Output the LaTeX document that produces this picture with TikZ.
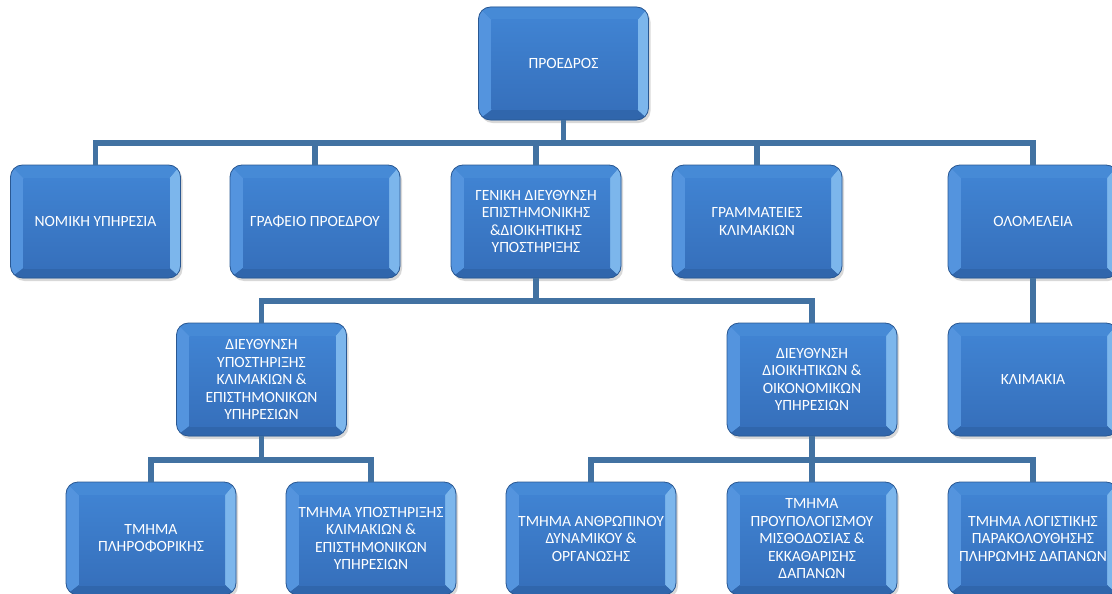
\documentclass[tikz,border=0pt]{standalone}
\usepackage{fontspec}
\newfontfamily\boxfont{Carlito}
\usetikzlibrary{shadows}
\definecolor{linkblue}{RGB}{66,114,162}
\definecolor{facetop}{RGB}{64,131,210}
\definecolor{facebot}{RGB}{54,112,188}
\definecolor{edgeblue}{RGB}{42,88,146}
\definecolor{bevleft}{RGB}{84,148,222}
\definecolor{bevright}{RGB}{124,182,236}
\definecolor{bevtop}{RGB}{70,138,214}
\definecolor{bevbot}{RGB}{48,102,172}

\begin{document}
\begin{tikzpicture}[x=1pt,y=-1pt,
  unit/.style={rounded corners=12pt,draw=edgeblue,line width=.8pt,
    top color=facetop,bottom color=facebot,
    minimum width=170pt,minimum height=113pt,inner sep=0pt,
    align=center,text=white,font=\boxfont\fontsize{15.6}{17.5}\selectfont,
    drop shadow={opacity=.3,shadow xshift=2pt,shadow yshift=-3pt},
    path picture={
      \fill[sharp corners,bevleft](path picture bounding box.north west)--([shift={(13pt,-13pt)}]path picture bounding box.north west)--([shift={(13pt,10pt)}]path picture bounding box.south west)--(path picture bounding box.south west)--cycle;
      \fill[sharp corners,bevright](path picture bounding box.north east)--([shift={(-11pt,-13pt)}]path picture bounding box.north east)--([shift={(-11pt,10pt)}]path picture bounding box.south east)--(path picture bounding box.south east)--cycle;
      \fill[sharp corners,bevtop](path picture bounding box.north west)--([shift={(13pt,-13pt)}]path picture bounding box.north west)--([shift={(-11pt,-13pt)}]path picture bounding box.north east)--(path picture bounding box.north east)--cycle;
      \fill[sharp corners,bevbot](path picture bounding box.south west)--([shift={(13pt,10pt)}]path picture bounding box.south west)--([shift={(-11pt,10pt)}]path picture bounding box.south east)--(path picture bounding box.south east)--cycle;
      \shade[sharp corners,top color=facetop,bottom color=facebot]([shift={(13pt,-13pt)}]path picture bounding box.north west)rectangle([shift={(-11pt,10pt)}]path picture bounding box.south east);
    }},
  link/.style={line width=5.5pt,draw=linkblue}]
\fill[white](0,0)rectangle(1112,594);
\useasboundingbox(0,0)rectangle(1112,594);

% top
\node[unit](proedros)at(563.5,63.5){ΠΡΟΕΔΡΟΣ};

% second row
\node[unit](nomiki)at(95.5,221.5){ΝΟΜΙΚΗ ΥΠΗΡΕΣΙΑ};
\node[unit](grafeio)at(315,221.5){ΓΡΑΦΕΙΟ ΠΡΟΕΔΡΟΥ};
\node[unit](geniki)at(536,221.5){ΓΕΝΙΚΗ ΔΙΕΥΘΥΝΣΗ\\ΕΠΙΣΤΗΜΟΝΙΚΗΣ\\\&ΔΙΟΙΚΗΤΙΚΗΣ\\ΥΠΟΣΤΗΡΙΞΗΣ};
\node[unit](grammateies)at(757,221.5){ΓΡΑΜΜΑΤΕΙΕΣ\\ΚΛΙΜΑΚΙΩΝ};
\node[unit](olomeleia)at(1033,221.5){ΟΛΟΜΕΛΕΙΑ};

% third row
\node[unit](dnsypost)at(261.5,379.5){ΔΙΕΥΘΥΝΣΗ\\ΥΠΟΣΤΗΡΙΞΗΣ\\ΚΛΙΜΑΚΙΩΝ \&\\ΕΠΙΣΤΗΜΟΝΙΚΩΝ\\ΥΠΗΡΕΣΙΩΝ};
\node[unit](dnsdioik)at(812,379.5){ΔΙΕΥΘΥΝΣΗ\\ΔΙΟΙΚΗΤΙΚΩΝ \&\\ΟΙΚΟΝΟΜΙΚΩΝ\\ΥΠΗΡΕΣΙΩΝ};
\node[unit](klimakia)at(1033,379.5){ΚΛΙΜΑΚΙΑ};

% fourth row
\node[unit](pliroforikis)at(151,538.5){ΤΜΗΜΑ\\ΠΛΗΡΟΦΟΡΙΚΗΣ};
\node[unit](tmypost)at(371,538.5){ΤΜΗΜΑ ΥΠΟΣΤΗΡΙΞΗΣ\\ΚΛΙΜΑΚΙΩΝ \&\\ΕΠΙΣΤΗΜΟΝΙΚΩΝ\\ΥΠΗΡΕΣΙΩΝ};
\node[unit](anthropinou)at(591,538.5){ΤΜΗΜΑ ΑΝΘΡΩΠΙΝΟΥ\\ΔΥΝΑΜΙΚΟΥ \&\\ΟΡΓΑΝΩΣΗΣ};
\node[unit](proypologismou)at(812,538.5){ΤΜΗΜΑ\\ΠΡΟΥΠΟΛΟΓΙΣΜΟΥ\\ΜΙΣΘΟΔΟΣΙΑΣ \&\\ΕΚΚΑΘΑΡΙΣΗΣ\\ΔΑΠΑΝΩΝ};
\node[unit](logistikis)at(1033,538.5){ΤΜΗΜΑ ΛΟΓΙΣΤΙΚΗΣ\\ΠΑΡΑΚΟΛΟΥΘΗΣΗΣ\\ΠΛΗΡΩΜΗΣ ΔΑΠΑΝΩΝ};

% connectors
\coordinate(bus1)at(0,143);
\coordinate(bus2)at(0,301);
\coordinate(bus3)at(0,460);
\foreach \n in {nomiki,grafeio,geniki,grammateies,olomeleia}
  \draw[link](proedros.south)|-(bus1-|\n.north)--(\n.north);
\foreach \n in {dnsypost,dnsdioik}
  \draw[link](geniki.south)|-(bus2-|\n.north)--(\n.north);
\draw[link](olomeleia.south)--(klimakia.north);
\foreach \n in {pliroforikis,tmypost}
  \draw[link](dnsypost.south)|-(bus3-|\n.north)--(\n.north);
\foreach \n in {anthropinou,proypologismou,logistikis}
  \draw[link](dnsdioik.south)|-(bus3-|\n.north)--(\n.north);
\end{tikzpicture}
\end{document}
